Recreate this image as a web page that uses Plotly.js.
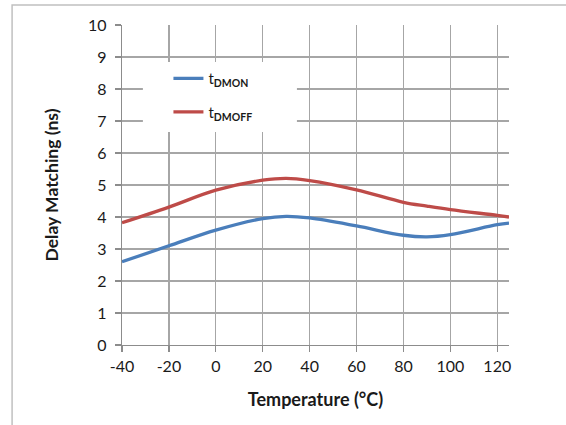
<!DOCTYPE html>
<html>
<head>
<meta charset="utf-8">
<script src="https://cdn.plot.ly/plotly-3.0.1.min.js"></script>
<style>html,body{margin:0;padding:0;background:#fff;}#chart{width:566px;height:425px;}</style>
</head>
<body>
<div id="chart"></div>
<script>
const temperature = [-40, -20, 0, 20, 30, 40, 60, 80, 90, 100, 120, 125];
const tDMON  = [2.60, 3.10, 3.59, 3.95, 4.02, 3.97, 3.72, 3.43, 3.38, 3.45, 3.76, 3.81];
const tDMOFF = [3.82, 4.31, 4.84, 5.15, 5.21, 5.14, 4.85, 4.46, 4.34, 4.23, 4.05, 4.00];
const xTicks = [-40, -20, 0, 20, 40, 60, 80, 100, 120];
const yTicks = [0, 1, 2, 3, 4, 5, 6, 7, 8, 9, 10];

const FONT = 'Lato, "Open Sans", sans-serif';

const traces = [
  {x: temperature, y: tDMON, name: 't<sub><b>DMON</b></sub>', mode: 'lines',
   line: {color: '#4a7ebb', width: 3.3, shape: 'spline', smoothing: 1}, legendgroup: 'a'},
  {x: temperature, y: tDMOFF, name: 't<sub><b>DMOFF</b></sub>', mode: 'lines',
   line: {color: '#be4b48', width: 3.3, shape: 'spline', smoothing: 1}, legendgroup: 'b'}
];

const axisCommon = {
  showgrid: true, gridcolor: '#a6a6a6', gridwidth: 1.3,
  showline: true, linecolor: '#8c8c8c', linewidth: 1.3,
  zeroline: false, ticks: 'outside', ticklen: 6, tickcolor: '#8c8c8c', tickwidth: 1.3,
  tickfont: {family: FONT, size: 16, color: '#1a1a1a'}
};

const layout = {
  width: 566, height: 425,
  margin: {l: 122, r: 57, t: 25, b: 80},
  paper_bgcolor: '#fff', plot_bgcolor: '#fff',
  font: {family: FONT, color: '#1a1a1a'},
  xaxis: Object.assign({}, axisCommon, {
    range: [-40, 125], tickvals: xTicks, ticktext: xTicks.map(String),
    title: {text: '<b>Temperature (°C)</b>', font: {family: FONT, size: 18, color: '#1a1a1a'}, standoff: 20}
  }),
  yaxis: Object.assign({}, axisCommon, {
    range: [0, 10], tickvals: yTicks, ticktext: yTicks.map(String),
    ticklabelstandoff: 5,
    title: {text: '<b>Delay Matching (ns)</b>', font: {family: FONT, size: 17.5, color: '#1a1a1a'}, standoff: 24}
  }),
  showlegend: true,
  legend: {x: 0.12, y: 0.884, xanchor: 'left', yanchor: 'top', bgcolor: 'rgba(0,0,0,0)',
           font: {family: FONT, size: 15, color: '#1a1a1a'}, tracegroupgap: 11, traceorder: 'grouped'},
  shapes: [
    {type: 'rect', xref: 'paper', yref: 'paper', x0: 0.054, x1: 0.452, y0: 0.666, y1: 0.884,
     fillcolor: '#fff', line: {width: 0}, layer: 'above'},
    {type: 'rect', xref: 'paper', yref: 'paper', x0: -0.284, x1: 2, y0: -2, y1: 1.0625,
     fillcolor: 'rgba(0,0,0,0)', line: {color: '#c0c0c0', width: 1.5}, layer: 'below'}
  ]
};

Plotly.newPlot('chart', traces, layout, {staticPlot: true, displayModeBar: false});
</script>
</body>
</html>
